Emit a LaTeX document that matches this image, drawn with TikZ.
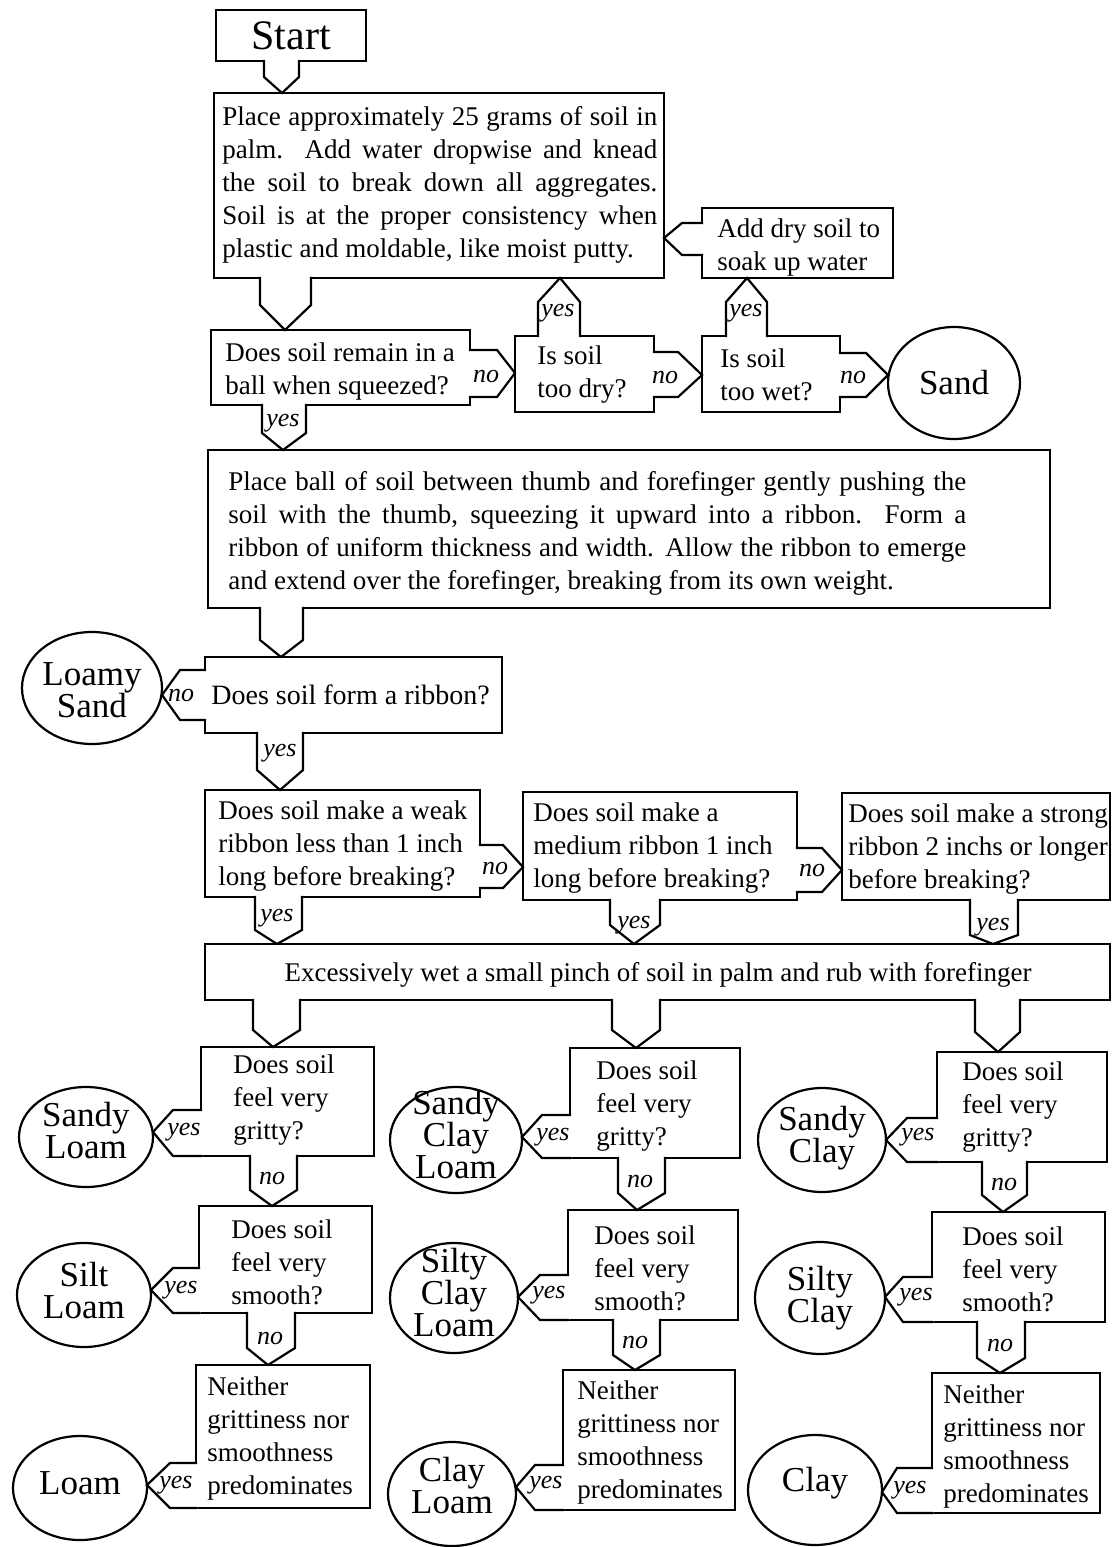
\documentclass[tikz,border=0pt]{standalone}
\usepackage{fontspec}
\setmainfont{Liberation Serif}
\usetikzlibrary{calc,fit,shapes.geometric}
\tikzset{
  bx/.style={draw, rectangle, line width=1.1pt, inner sep=0pt, outer sep=0pt},
  el/.style={draw, ellipse, line width=1.1pt, inner sep=0pt, outer sep=0pt},
  tx/.style={inner sep=0pt, anchor=west, align=left, font=\fontsize{13.5}{16.5}\selectfont},
  big/.style={inner sep=0pt, align=center, font=\fontsize{17.5}{16}\selectfont},
  lab/.style={inner sep=0pt, font=\fontsize{13}{15}\selectfont\itshape},
  tabline/.style={line width=1.1pt, line join=miter, line cap=rect}
}
% vertical tab: source anchor, target anchor, xL, xR, x apex, y of shoulders
\newcommand\vtab[6]{%
  \coordinate (tL) at (#3,#6);
  \coordinate (tR) at (#4,#6);
  \coordinate (tA) at (#5,0);
  \fill[white] ($(tL |- #1)!-0.7pt!(tL)$) -- (tL) -- (tA |- #2) -- (tR) -- ($(tR |- #1)!-0.7pt!(tR)$) -- cycle;
  \draw[tabline] (tL |- #1) -- (tL) -- (tA |- #2) -- (tR) -- (tR |- #1);
}
% horizontal tab: source anchor, target anchor, y top, y bottom, y apex, x of shoulders
\newcommand\htab[6]{%
  \coordinate (tT) at (#6,#3);
  \coordinate (tB) at (#6,#4);
  \coordinate (tA) at (0,#5);
  \fill[white] ($(tT -| #1)!-0.7pt!(tT)$) -- (tT) -- (tA -| #2) -- (tB) -- ($(tB -| #1)!-0.7pt!(tB)$) -- cycle;
  \draw[tabline] (tT -| #1) -- (tT) -- (tA -| #2) -- (tB) -- (tB -| #1);
}
\begin{document}
\begin{tikzpicture}[x=0.5pt,y=-0.5pt]
\useasboundingbox (0,0) rectangle (1112,1547);
% ---------- boxes ----------
\node[bx, fit={(216,10) (366,61)}] (start) {};
\node[bx, fit={(214,93) (664,278)}] (place) {};
\node[bx, fit={(702,208) (893,278)}] (add) {};
\node[bx, fit={(211,330) (470,405)}] (q1) {};
\node[bx, fit={(515,336) (654,412)}] (dry) {};
\node[bx, fit={(702,336) (840,412)}] (wet) {};
\node[bx, fit={(208,450) (1050,608)}] (rib) {};
\node[bx, fit={(205,657) (502,733)}] (ribq) {};
\node[bx, fit={(205,790) (480,897)}] (weak) {};
\node[bx, fit={(523,792) (797,900)}] (med) {};
\node[bx, fit={(842,793) (1110,900)}] (strong) {};
\node[bx, fit={(205,944) (1110,1000)}] (exc) {};
\node[bx, fit={(201,1047) (374,1156)}] (g1) {};
\node[bx, fit={(199,1206) (372,1313)}] (s1) {};
\node[bx, fit={(196,1365) (370,1508)}] (n1) {};
\node[bx, fit={(570,1048) (740,1158)}] (g2) {};
\node[bx, fit={(568,1210) (738,1320)}] (s2) {};
\node[bx, fit={(563,1370) (735,1510)}] (n2) {};
\node[bx, fit={(937,1052) (1107,1162)}] (g3) {};
\node[bx, fit={(932,1212) (1105,1322)}] (s3) {};
\node[bx, fit={(932,1373) (1100,1513)}] (n3) {};
% ---------- ellipses ----------
\node[el, minimum width=66pt, minimum height=56pt] (sand) at (954,383) {};
\node[el, minimum width=70pt, minimum height=56pt] (lsand) at (92,688) {};
\node[el, minimum width=67pt, minimum height=50pt] (sl) at (86,1137) {};
\node[el, minimum width=67pt, minimum height=52pt] (siltl) at (84,1295) {};
\node[el, minimum width=67pt, minimum height=52pt] (loam) at (80,1488) {};
\node[el, minimum width=66pt, minimum height=53pt] (scl) at (456,1140) {};
\node[el, minimum width=64pt, minimum height=55pt] (sicl) at (454,1298) {};
\node[el, minimum width=64pt, minimum height=52pt] (cl) at (452,1494) {};
\node[el, minimum width=64pt, minimum height=52pt] (sc) at (822,1140) {};
\node[el, minimum width=65pt, minimum height=56pt] (sic) at (820,1298) {};
\node[el, minimum width=67pt, minimum height=55pt] (clay) at (815,1490) {};
% ---------- tabs (connectors) ----------
\vtab{start.south}{place.north}{264}{299}{282}{77}
\vtab{place.south}{q1.north}{260}{311}{285}{305}
\vtab{q1.south}{rib.north}{262}{306}{283}{433}
\vtab{dry.north}{place.south}{538}{580}{560}{302}
\vtab{wet.north}{add.south}{726}{767}{747}{302}
\vtab{rib.south}{ribq.north}{260}{303}{281}{640}
\vtab{ribq.south}{weak.north}{257}{303}{280}{770}
\vtab{weak.south}{exc.north}{255}{302}{277}{930}
\vtab{med.south}{exc.north}{610}{660}{634}{925}
\vtab{strong.south}{exc.north}{970}{1018}{993}{935}
\vtab{exc.south}{g1.north}{253}{300}{273}{1030}
\vtab{exc.south}{g2.north}{612}{660}{636}{1030}
\vtab{exc.south}{g3.north}{975}{1020}{998}{1032}
\vtab{g1.south}{s1.north}{250}{297}{272}{1190}
\vtab{s1.south}{n1.north}{247}{295}{268}{1348}
\vtab{g2.south}{s2.north}{618}{665}{637}{1193}
\vtab{s2.south}{n2.north}{613}{660}{635}{1355}
\vtab{g3.south}{s3.north}{982}{1027}{1003}{1195}
\vtab{s3.south}{n3.north}{977}{1025}{1000}{1358}
\htab{q1.east}{dry.west}{350}{397}{373}{497}
\htab{dry.east}{wet.west}{352}{397}{375}{678}
\htab{wet.east}{sand.west}{353}{397}{375}{866}
\htab{add.west}{place.east}{223}{255}{238}{682}
\htab{ribq.west}{lsand.east}{670}{720}{695}{180}
\htab{weak.east}{med.west}{845}{888}{867}{503}
\htab{med.east}{strong.west}{848}{892}{870}{822}
\htab{g1.west}{sl.east}{1110}{1156}{1132}{173}
\htab{s1.west}{siltl.east}{1268}{1313}{1290}{173}
\htab{n1.west}{loam.east}{1463}{1508}{1485}{170}
\htab{g2.west}{scl.east}{1115}{1158}{1137}{542}
\htab{s2.west}{sicl.east}{1275}{1320}{1297}{540}
\htab{n2.west}{cl.east}{1465}{1510}{1487}{535}
\htab{g3.west}{sc.east}{1118}{1162}{1140}{907}
\htab{s3.west}{sic.east}{1277}{1322}{1297}{903}
\htab{n3.west}{clay.east}{1468}{1513}{1492}{897}
% ---------- texts ----------
\node[inner sep=0pt, font=\fontsize{21}{24}\selectfont] (startt) at (start) {Start};
\node[tx, text width=217.5pt, align=justify] (placet) at (222,185) {Place approximately 25 grams of soil in\linebreak palm. Add water dropwise and knead\linebreak the soil to break down all aggregates.\linebreak Soil is at the proper consistency when\linebreak plastic and moldable, like moist putty.};
\node[tx] (addt) at (717,248) {Add dry soil to\\soak up water};
\node[tx] (q1t) at (225,372) {Does soil remain in a\\ball when squeezed?};
\node[tx] (dryt) at (537,375) {Is soil\\too dry?};
\node[tx] (wett) at (720,375) {Is soil\\too wet?};
\node[tx, text width=369pt, align=justify] (ribt) at (228,533) {Place ball of soil between thumb and forefinger gently pushing the\linebreak soil with the thumb, squeezing it upward into a ribbon. Form a\linebreak ribbon of uniform thickness and width. Allow the ribbon to emerge\linebreak and extend over the forefinger, breaking from its own weight.};
\node[tx, font=\fontsize{14}{16.5}\selectfont] (ribqt) at (211,695) {Does soil form a ribbon?};
\node[tx] (weakt) at (218,846) {Does soil make a weak\\ribbon less than 1 inch\\long before breaking?};
\node[tx] (medt) at (533,848) {Does soil make a\\medium ribbon 1 inch\\long before breaking?};
\node[tx] (strongt) at (848,849) {Does soil make a strong\\ribbon 2 inchs or longer\\before breaking?};
\node[tx, anchor=center] (exct) at (658,975) {Excessively wet a small pinch of soil in palm and rub with forefinger};
\node[tx] (g1t) at (233,1100) {Does soil\\feel very\\gritty?};
\node[tx] (s1t) at (231,1262) {Does soil\\feel very\\smooth?};
\node[tx] (n1t) at (207,1438) {Neither\\grittiness nor\\smoothness\\predominates};
\node[tx] (g2t) at (596,1106) {Does soil\\feel very\\gritty?};
\node[tx] (s2t) at (594,1268) {Does soil\\feel very\\smooth?};
\node[tx] (n2t) at (577,1442) {Neither\\grittiness nor\\smoothness\\predominates};
\node[tx] (g3t) at (962,1107) {Does soil\\feel very\\gritty?};
\node[tx] (s3t) at (962,1269) {Does soil\\feel very\\smooth?};
\node[tx] (n3t) at (943,1446) {Neither\\grittiness nor\\smoothness\\predominates};
% ellipse texts
\node[big] (sandt) at (954,383) {Sand};
\node[big] (lsandt) at (92,690) {Loamy\\Sand};
\node[big] (slt) at (86,1131) {Sandy\\Loam};
\node[big] (siltlt) at (84,1291) {Silt\\Loam};
\node[big] (loamt) at (80,1483) {Loam};
\node[big] (sclt) at (456,1135) {Sandy\\Clay\\Loam};
\node[big] (siclt) at (454,1293) {Silty\\Clay\\Loam};
\node[big] (clt) at (452,1486) {Clay\\Loam};
\node[big] (sct) at (822,1138) {Sandy\\Clay};
\node[big] (sict) at (820,1298) {Silty\\Clay};
\node[big] (clayt) at (815,1483) {Clay};
% yes / no labels
\node[lab] (l1) at (283,423) {yes};
\node[lab] (l2) at (486,376) {no};
\node[lab] (l3) at (558,313) {yes};
\node[lab] (l4) at (665,377) {no};
\node[lab] (l5) at (746,313) {yes};
\node[lab] (l6) at (853,377) {no};
\node[lab] (l7) at (181,695) {no};
\node[lab] (l8) at (280,753) {yes};
\node[lab] (l9) at (495,868) {no};
\node[lab] (l10) at (277,918) {yes};
\node[lab] (l11) at (812,870) {no};
\node[lab] (l12) at (634,925) {yes};
\node[lab] (l13) at (993,927) {yes};
\node[lab] (l14) at (184,1132) {yes};
\node[lab] (l15) at (272,1178) {no};
\node[lab] (l16) at (181,1290) {yes};
\node[lab] (l17) at (270,1338) {no};
\node[lab] (l18) at (176,1485) {yes};
\node[lab] (l19) at (553,1137) {yes};
\node[lab] (l20) at (640,1181) {no};
\node[lab] (l21) at (549,1295) {yes};
\node[lab] (l22) at (635,1342) {no};
\node[lab] (l23) at (546,1485) {yes};
\node[lab] (l24) at (918,1137) {yes};
\node[lab] (l25) at (1004,1184) {no};
\node[lab] (l26) at (916,1297) {yes};
\node[lab] (l27) at (1000,1345) {no};
\node[lab] (l28) at (910,1490) {yes};
\end{tikzpicture}
\end{document}
